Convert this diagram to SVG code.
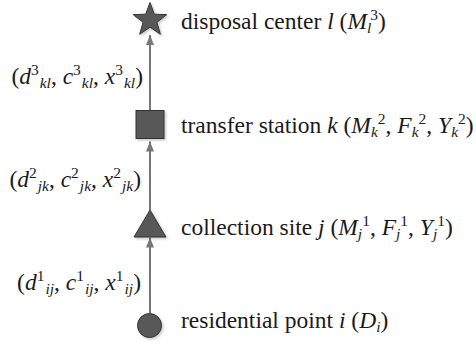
<svg xmlns="http://www.w3.org/2000/svg" width="476" height="344" viewBox="0 0 476 344">
  <defs>
    <marker id="arrow" markerUnits="userSpaceOnUse" markerWidth="10" markerHeight="8" refX="10" refY="4" orient="auto">
      <path d="M0,0 L10,4 L0,8 Z" fill="#777"/>
    </marker>
    <filter id="shadow" x="-30%" y="-30%" width="160%" height="160%">
      <feDropShadow dx="1.5" dy="1.5" stdDeviation="1" flood-color="#000" flood-opacity="0.22"/>
    </filter>
  </defs>
  <style>
    .shape { fill: #595959; stroke: #333; stroke-width: 1; filter: url(#shadow); }
    .edge { stroke: #777; stroke-width: 2; fill: none; marker-end: url(#arrow); }
    .lbl { font-size: 23.5px; fill: #1a1a1a; }
    .end { text-anchor: end; }
    .it { font-style: italic; }
    .s { font-size: 15.5px; }
  </style>
  <rect width="476" height="344" fill="#fff"/>

  <!-- connectors with their flow labels -->
  <g id="connectors">
    <line class="edge" x1="150" y1="313" x2="150" y2="237.5"/>
    <line class="edge" x1="150" y1="210" x2="150" y2="141.5"/>
    <line class="edge" x1="150" y1="110" x2="150" y2="35"/>
    <g font-family="Liberation Serif, DejaVu Serif, serif">
      <text class="lbl end" x="143" y="84">(<tspan class="it">d</tspan><tspan class="s" dy="-9">3</tspan><tspan class="s it" dx="1" dy="13">kl</tspan><tspan dy="-4">, </tspan><tspan class="it">c</tspan><tspan class="s" dy="-9">3</tspan><tspan class="s it" dx="1" dy="13">kl</tspan><tspan dy="-4">, </tspan><tspan class="it">x</tspan><tspan class="s" dy="-9">3</tspan><tspan class="s it" dx="1" dy="13">kl</tspan><tspan dy="-4">)</tspan></text>
      <text class="lbl end" x="141" y="187">(<tspan class="it">d</tspan><tspan class="s" dy="-9">2</tspan><tspan class="s it" dx="1" dy="13">jk</tspan><tspan dy="-4">, </tspan><tspan class="it">c</tspan><tspan class="s" dy="-9">2</tspan><tspan class="s it" dx="1" dy="13">jk</tspan><tspan dy="-4">, </tspan><tspan class="it">x</tspan><tspan class="s" dy="-9">2</tspan><tspan class="s it" dx="1" dy="13">jk</tspan><tspan dy="-4">)</tspan></text>
      <text class="lbl end" x="141" y="290">(<tspan class="it">d</tspan><tspan class="s" dy="-9">1</tspan><tspan class="s it" dx="1" dy="13">ij</tspan><tspan dy="-4">, </tspan><tspan class="it">c</tspan><tspan class="s" dy="-9">1</tspan><tspan class="s it" dx="1" dy="13">ij</tspan><tspan dy="-4">, </tspan><tspan class="it">x</tspan><tspan class="s" dy="-9">1</tspan><tspan class="s it" dx="1" dy="13">ij</tspan><tspan dy="-4">)</tspan></text>
    </g>
  </g>

  <!-- disposal center -->
  <g id="disposal-center" font-family="Liberation Serif, DejaVu Serif, serif">
    <polygon class="shape" points="150,2.5 154.3,14.2 166.8,14.6 156.9,22.3 160.4,34.3 150,27.2 139.6,34.3 143.1,22.3 133.2,14.6 145.7,14.2"/>
    <text class="lbl" x="181" y="29">disposal center <tspan class="it">l</tspan> (<tspan class="it">M</tspan><tspan class="s it" dy="4">l</tspan><tspan class="s" dx="-1" dy="-13">3</tspan><tspan dy="9">)</tspan></text>
  </g>

  <!-- transfer station -->
  <g id="transfer-station" font-family="Liberation Serif, DejaVu Serif, serif">
    <rect class="shape" x="136" y="110.5" width="28" height="28"/>
    <text class="lbl" x="181" y="133">transfer station <tspan class="it">k</tspan> (<tspan class="it">M</tspan><tspan class="s it" dy="4">k</tspan><tspan class="s" dy="-13">2</tspan><tspan dy="9">, </tspan><tspan class="it">F</tspan><tspan class="s it" dy="4">k</tspan><tspan class="s" dy="-13">2</tspan><tspan dy="9">, </tspan><tspan class="it">Y</tspan><tspan class="s it" dy="4">k</tspan><tspan class="s" dy="-13">2</tspan><tspan dy="9">)</tspan></text>
  </g>

  <!-- collection site -->
  <g id="collection-site" font-family="Liberation Serif, DejaVu Serif, serif">
    <polygon class="shape" points="150,210 166,237 134,237"/>
    <text class="lbl" x="181" y="235">collection site <tspan class="it">j</tspan> (<tspan class="it">M</tspan><tspan class="s it" dy="4">j</tspan><tspan class="s" dy="-13">1</tspan><tspan dy="9">, </tspan><tspan class="it">F</tspan><tspan class="s it" dy="4">j</tspan><tspan class="s" dy="-13">1</tspan><tspan dy="9">, </tspan><tspan class="it">Y</tspan><tspan class="s it" dy="4">j</tspan><tspan class="s" dy="-13">1</tspan><tspan dy="9">)</tspan></text>
  </g>

  <!-- residential point -->
  <g id="residential-point" font-family="Liberation Serif, DejaVu Serif, serif">
    <circle class="shape" cx="149.5" cy="325.5" r="12"/>
    <text class="lbl" x="181" y="328">residential point <tspan class="it">i</tspan> (<tspan class="it">D</tspan><tspan class="s it" dy="4">i</tspan><tspan dy="-4">)</tspan></text>
  </g>
</svg>
